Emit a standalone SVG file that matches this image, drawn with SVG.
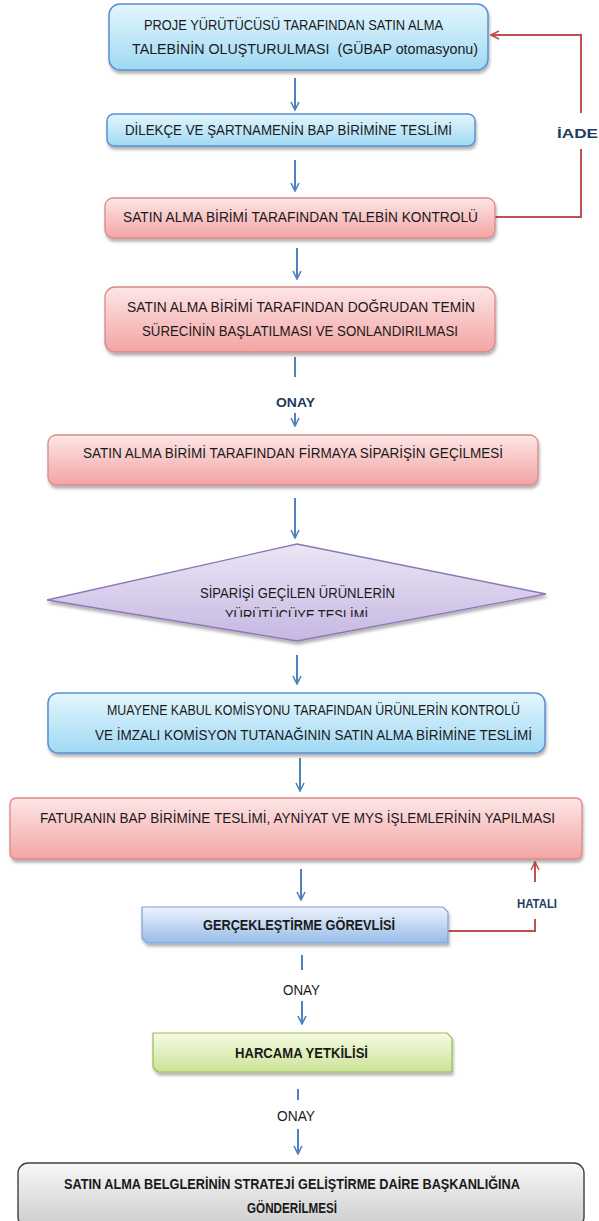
<svg xmlns="http://www.w3.org/2000/svg" width="599" height="1221" viewBox="0 0 599 1221">
<style>
.t{font-family:"Liberation Sans",Arial,sans-serif;font-size:14px;fill:#1a1a1a}
.b{font-weight:bold}
.lbl{font-family:"Liberation Sans",Arial,sans-serif;font-size:13.5px;font-weight:bold;fill:#1f3a5f}
.blue{fill:url(#gBlue);stroke:#5b8fd0;stroke-width:1.5}
.red{fill:url(#gRed);stroke:#d98a88;stroke-width:1.3}
.bl{stroke:#4f81bd;stroke-width:2;fill:none}
.rl{stroke:#c0504d;stroke-width:2;fill:none}
</style>
<defs>
<linearGradient id="gBlue" x1="0" y1="0" x2="0" y2="1"><stop offset="0" stop-color="#e4f6fd"/><stop offset="1" stop-color="#9fd9f3"/></linearGradient>
<linearGradient id="gRed" x1="0" y1="0" x2="0" y2="1"><stop offset="0" stop-color="#fde6e6"/><stop offset="1" stop-color="#f3a4a4"/></linearGradient>
<linearGradient id="gPurple" x1="0" y1="0" x2="0" y2="1"><stop offset="0" stop-color="#ebe6f5"/><stop offset="1" stop-color="#c6b7e2"/></linearGradient>
<linearGradient id="gBlue2" x1="0" y1="0" x2="0" y2="1"><stop offset="0" stop-color="#edf3fc"/><stop offset="1" stop-color="#98bbe8"/></linearGradient>
<linearGradient id="gGreen" x1="0" y1="0" x2="0" y2="1"><stop offset="0" stop-color="#f6fbe4"/><stop offset="1" stop-color="#cbe496"/></linearGradient>
<linearGradient id="gGray" x1="0" y1="0" x2="0" y2="1"><stop offset="0" stop-color="#f7f7f7"/><stop offset="1" stop-color="#cdcdcd"/></linearGradient>
<filter id="sh" x="-10%" y="-20%" width="120%" height="150%"><feDropShadow dx="1" dy="3" stdDeviation="1.8" flood-color="#000" flood-opacity="0.3"/></filter>
<marker id="ab" viewBox="0 0 10 10" refX="9" refY="5" markerWidth="5" markerHeight="5" orient="auto" markerUnits="strokeWidth"><path d="M1,1 L9,5 L1,9" fill="none" stroke="#4f81bd" stroke-width="1.6"/></marker>
<marker id="ar" viewBox="0 0 10 10" refX="9" refY="5" markerWidth="5" markerHeight="5" orient="auto" markerUnits="strokeWidth"><path d="M1,1 L9,5 L1,9" fill="none" stroke="#c0504d" stroke-width="1.6"/></marker>
<clipPath id="clipD"><rect x="0" y="540" width="599" height="77"/></clipPath>
</defs>
<rect width="599" height="1221" fill="#fff"/>

<g id="connectors">
<line class="bl" x1="295" y1="78" x2="295" y2="110" marker-end="url(#ab)"/>
<line class="bl" x1="295" y1="160" x2="295" y2="191" marker-end="url(#ab)"/>
<line class="bl" x1="297" y1="248" x2="297" y2="279" marker-end="url(#ab)"/>
<line class="bl" x1="295" y1="357" x2="295" y2="377"/>
<line class="bl" x1="295" y1="413" x2="295" y2="426" marker-end="url(#ab)"/>
<line class="bl" x1="295" y1="498" x2="295" y2="538" marker-end="url(#ab)"/>
<line class="bl" x1="297" y1="655" x2="297" y2="684" marker-end="url(#ab)"/>
<line class="bl" x1="300" y1="758" x2="300" y2="791" marker-end="url(#ab)"/>
<line class="bl" x1="301" y1="869" x2="301" y2="900" marker-end="url(#ab)"/>
<line class="bl" x1="302" y1="955" x2="302" y2="970"/>
<line class="bl" x1="302" y1="1001" x2="302" y2="1024" marker-end="url(#ab)"/>
<line class="bl" x1="298" y1="1089" x2="298" y2="1100"/>
<line class="bl" x1="298" y1="1129" x2="298" y2="1154" marker-end="url(#ab)"/>
<polyline class="rl" points="495,217 581,217 581,149"/>
<polyline class="rl" points="581,113 581,35 491,35" marker-end="url(#ar)"/>
<polyline class="rl" points="448,931 535,931 535,919"/>
<line class="rl" x1="535" y1="882" x2="535" y2="862" marker-end="url(#ar)"/>
<text class="lbl" x="557" y="138" textLength="41" lengthAdjust="spacingAndGlyphs">İADE</text>
<text class="lbl" x="517" y="908" textLength="40" lengthAdjust="spacingAndGlyphs">HATALI</text>
<text class="lbl" x="276" y="407" textLength="39" lengthAdjust="spacingAndGlyphs">ONAY</text>
<text class="t" x="283" y="995" textLength="37" lengthAdjust="spacingAndGlyphs">ONAY</text>
<text class="t" x="277" y="1121" textLength="38" lengthAdjust="spacingAndGlyphs">ONAY</text>
</g>

<g id="n1">
<rect class="blue" x="109" y="4" width="379" height="66" rx="11" filter="url(#sh)"/>
<text class="t" x="144" y="30" textLength="299" lengthAdjust="spacingAndGlyphs">PROJE YÜRÜTÜCÜSÜ TARAFINDAN SATIN ALMA</text>
<text class="t" x="132" y="54" textLength="346" lengthAdjust="spacingAndGlyphs" xml:space="preserve">TALEBİNİN OLUŞTURULMASI  (GÜBAP otomasyonu)</text>
</g>

<g id="n2">
<rect class="blue" x="107" y="114" width="368" height="32" rx="7" filter="url(#sh)"/>
<text class="t" x="125" y="135" textLength="327" lengthAdjust="spacingAndGlyphs">DİLEKÇE VE ŞARTNAMENİN BAP BİRİMİNE TESLİMİ</text>
</g>

<g id="n3">
<rect class="red" x="105" y="198" width="390" height="40" rx="8" filter="url(#sh)"/>
<text class="t" x="123" y="222" textLength="355" lengthAdjust="spacingAndGlyphs">SATIN ALMA BİRİMİ TARAFINDAN TALEBİN KONTROLÜ</text>
</g>

<g id="n4">
<rect class="red" x="105" y="287" width="390" height="65" rx="10" filter="url(#sh)"/>
<text class="t" x="127" y="312" textLength="348" lengthAdjust="spacingAndGlyphs">SATIN ALMA BİRİMİ TARAFINDAN DOĞRUDAN TEMİN</text>
<text class="t" x="142" y="336" textLength="316" lengthAdjust="spacingAndGlyphs">SÜRECİNİN BAŞLATILMASI VE SONLANDIRILMASI</text>
</g>

<g id="n5">
<rect class="red" x="48" y="435" width="490" height="50" rx="8" filter="url(#sh)"/>
<text class="t" x="83" y="458" textLength="420" lengthAdjust="spacingAndGlyphs">SATIN ALMA BİRİMİ TARAFINDAN FİRMAYA SİPARİŞİN GEÇİLMESİ</text>
</g>

<g id="n6">
<polygon points="297,544 546,594 297,641 47,600" fill="url(#gPurple)" stroke="#8c78b8" stroke-width="1.3" filter="url(#sh)"/>
<text class="t" x="200" y="598" textLength="195" lengthAdjust="spacingAndGlyphs">SİPARİŞİ GEÇİLEN ÜRÜNLERİN</text>
<text class="t" x="225" y="620" textLength="143" lengthAdjust="spacingAndGlyphs" clip-path="url(#clipD)">YÜRÜTÜCÜYE TESLİMİ</text>
</g>

<g id="n7">
<rect class="blue" x="48" y="693" width="497" height="60" rx="10" filter="url(#sh)"/>
<text class="t" x="107" y="715" textLength="413" lengthAdjust="spacingAndGlyphs">MUAYENE KABUL KOMİSYONU TARAFINDAN ÜRÜNLERİN KONTROLÜ</text>
<text class="t" x="95" y="740" textLength="437" lengthAdjust="spacingAndGlyphs">VE İMZALI KOMİSYON TUTANAĞININ SATIN ALMA BİRİMİNE TESLİMİ</text>
</g>

<g id="n8">
<rect class="red" x="10" y="798" width="572" height="61" rx="6" filter="url(#sh)"/>
<text class="t" x="40" y="823" textLength="515" lengthAdjust="spacingAndGlyphs">FATURANIN BAP BİRİMİNE TESLİMİ, AYNİYAT VE MYS İŞLEMLERİNİN YAPILMASI</text>
</g>

<g id="n9">
<path d="M142,907 H443 L448,912 V943 H147 L142,938 Z" fill="url(#gBlue2)" stroke="#7ba3d6" stroke-width="1.2" filter="url(#sh)"/>
<text class="t b" x="203" y="930" textLength="192" lengthAdjust="spacingAndGlyphs">GERÇEKLEŞTİRME GÖREVLİSİ</text>
</g>

<g id="n10">
<path d="M153,1033 H447 L452,1038 V1072 H158 L153,1067 Z" fill="url(#gGreen)" stroke="#9bbb59" stroke-width="1.2" filter="url(#sh)"/>
<text class="t b" x="235" y="1058" textLength="133" lengthAdjust="spacingAndGlyphs">HARCAMA YETKİLİSİ</text>
</g>

<g id="n11">
<rect x="18" y="1163" width="566" height="64" rx="10" fill="url(#gGray)" stroke="#404040" stroke-width="1.4"/>
<text class="t b" x="64" y="1189" textLength="456" lengthAdjust="spacingAndGlyphs">SATIN ALMA BELGLERİNİN STRATEJİ GELİŞTİRME DAİRE BAŞKANLIĞINA</text>
<text class="t b" x="247" y="1213" textLength="90" lengthAdjust="spacingAndGlyphs">GÖNDERİLMESİ</text>
</g>
</svg>
